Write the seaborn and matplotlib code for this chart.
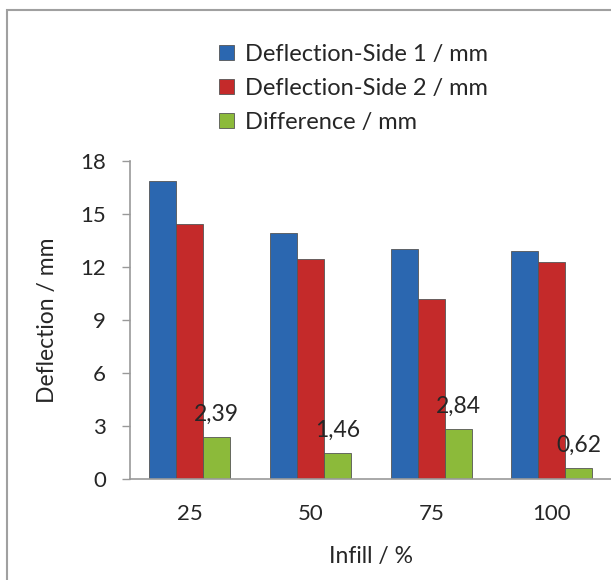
import matplotlib
matplotlib.use("Agg")
import matplotlib.pyplot as plt
import seaborn as sns
import pandas as pd
from matplotlib.patches import Rectangle

infill = ["25", "50", "75", "100"]
side1 = [16.85, 13.92, 13.02, 12.90]
side2 = [14.46, 12.46, 10.18, 12.28]
diff = [2.39, 1.46, 2.84, 0.62]
series = ["Deflection-Side 1 / mm", "Deflection-Side 2 / mm", "Difference / mm"]
colors = ["#2B67B0", "#C42A2A", "#8CBA3A"]
yticks = [0, 3, 6, 9, 12, 15, 18]

sns.set_theme(style="white")
plt.rcParams['font.family'] = ['Lato', 'DejaVu Sans']

rows = []
for name, vals in zip(series, [side1, side2, diff]):
    for c, v in zip(infill, vals):
        rows.append({"Infill": c, "Value": v, "Series": name})
df = pd.DataFrame(rows)

fig = plt.figure(figsize=(6.11, 5.80), dpi=100)
ax = fig.add_axes([0.212, 0.174, 0.79, 0.5484])

sns.barplot(data=df, x="Infill", y="Value", hue="Series", hue_order=series,
            order=infill, palette=colors, width=0.67, ax=ax,
            edgecolor="#555555", linewidth=0.6, saturation=1)

ax.set_ylim(0, 18)
ax.set_yticks(yticks)
ax.set_yticklabels([str(t) for t in yticks], fontsize=16)
ax.tick_params(axis='x', labelsize=16, length=0, pad=18)
ax.tick_params(axis='y', length=6, width=1, color="#999999", left=True, pad=11)
ax.set_xlabel("Infill / %", fontsize=16.5, labelpad=16)
ax.set_ylabel("Deflection / mm", fontsize=16.5, labelpad=16)
for s in ["top", "right"]:
    ax.spines[s].set_visible(False)
for s in ["left", "bottom"]:
    ax.spines[s].set_color("#999999")
    ax.spines[s].set_linewidth(1.2)

ax.bar_label(ax.containers[2], labels=[f"{v:.2f}".replace(".", ",") for v in diff],
             fontsize=16.5, padding=9)

leg = ax.legend(loc="upper left", bbox_to_anchor=(214/611, 1 - 39/580), bbox_transform=fig.transFigure,
                frameon=False, fontsize=17, handlelength=0.65, handleheight=0.65,
                handletextpad=0.45, labelspacing=0.55, borderaxespad=0, borderpad=0.2)

fig.patches.append(Rectangle((7/611, -0.1), 1.2, 1 - 10/580 + 0.1, transform=fig.transFigure,
                             fill=False, edgecolor="#A0A0A0", linewidth=1.5))

fig.savefig("out.png", dpi=100)
